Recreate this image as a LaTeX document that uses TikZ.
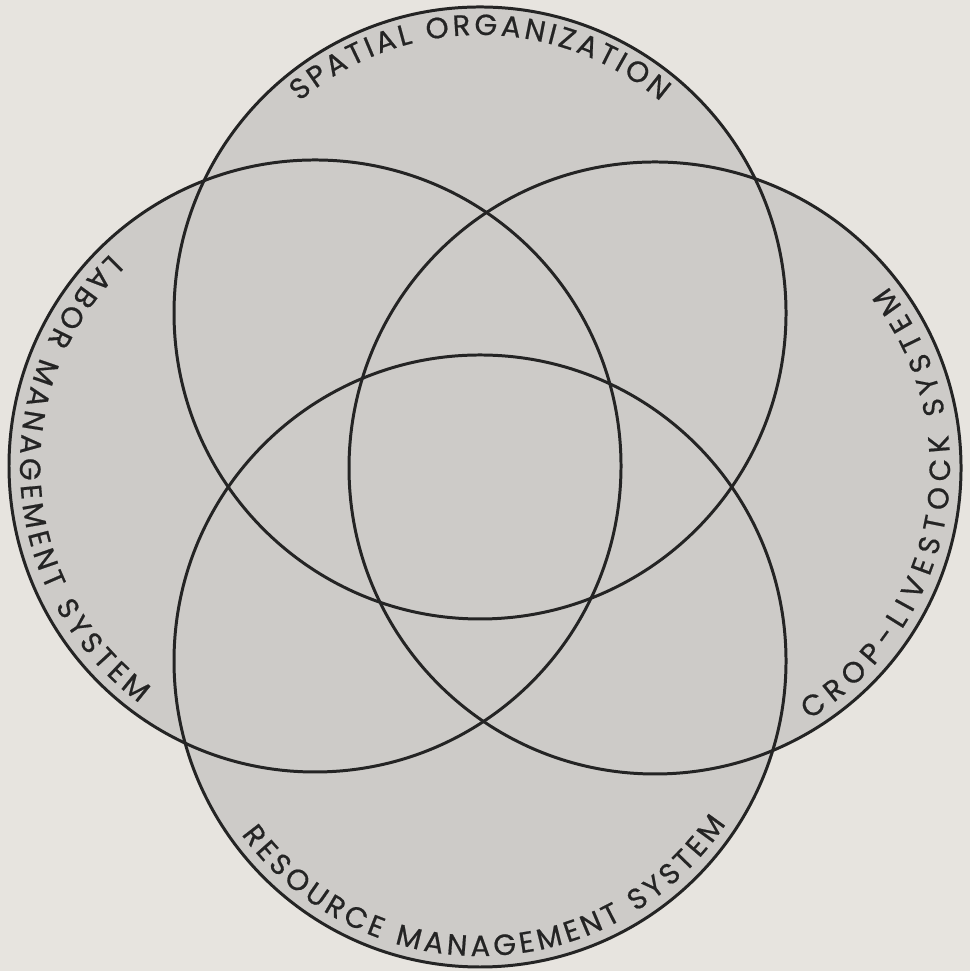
\documentclass[tikz,border=0pt]{standalone}
\usepackage{fontspec}
\usetikzlibrary{calc,decorations.text}
\newfontfamily\gothic{Poppins}[FakeBold=0.6]
\newcommand\ringfont{\gothic\fontsize{8.3}{10}\selectfont}
\definecolor{PaperBack}{HTML}{E7E4DF}
\definecolor{DotGrey}{HTML}{CDCBC8}
\definecolor{InkMain}{HTML}{242424}
\tikzset{ring/.style={draw=InkMain,line width=0.85pt},stipple/.style={fill=DotGrey},
 ringlabel/.style={decorate,decoration={text along path,text align={fit to path},
 text={|\ringfont\color{InkMain}|#1}}}}

\begin{document}
\begin{tikzpicture}[x=0.01cm,y=0.01cm]
\fill[PaperBack] (0,0) rectangle (970,971);
\useasboundingbox (0,0) rectangle (970,971);
\coordinate (spatial) at (480,658);
\coordinate (labor) at (315,505);
\coordinate (crop) at (655,503);
\coordinate (resource) at (480,310);
\foreach \c in {spatial,labor,crop,resource} \fill[stipple] (\c) circle[radius=306];
\foreach \c in {spatial,labor,crop,resource} \draw[ring] (\c) circle[radius=306];
\path[ringlabel={SPATIAL ORGANIZATION}] ($(spatial)+(130.5:278)$) arc[start angle=130.5,end angle=49.5,radius=278];
\path[ringlabel={LABOR MANAGEMENT SYSTEM}] ($(labor)+(134:295)$) arc[start angle=134,end angle=233.5,radius=295];
\path[ringlabel={CROP-LIVESTOCK SYSTEM}] ($(crop)+(-58.5:295)$) arc[start angle=-58.5,end angle=38,radius=295];
\path[ringlabel={RESOURCE MANAGEMENT SYSTEM}] ($(resource)+(216:295)$) arc[start angle=216,end angle=326.5,radius=295];
\end{tikzpicture}
\end{document}
